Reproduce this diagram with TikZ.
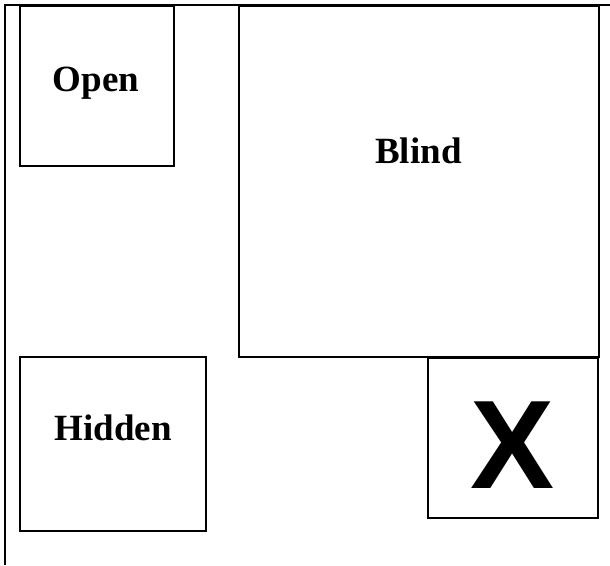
\documentclass[tikz,border=0pt]{standalone}
\usepackage{fontspec}
\setmainfont{Liberation Serif}
\newfontfamily\xfont{Liberation Sans}
\begin{document}
\begin{tikzpicture}[x=1pt,y=-1pt,
  panel/.style={draw=black,line width=1.5pt,inner sep=0pt,fill=none},
  lbl/.style={anchor=base,inner sep=0pt,font=\fontsize{37}{40}\selectfont\bfseries},
  xlbl/.style={anchor=base,inner sep=0pt,font=\fontsize{126}{130}\selectfont\xfont\bfseries}]
\useasboundingbox (0,0) rectangle (610,565);
% outer frame
\coordinate (tl) at (5,5);
\coordinate (tr) at (610,5);
\coordinate (bl) at (5,565);
\draw[line width=2.2pt] (bl) -- (tl) -- (tr);
% boxes
\node[panel,minimum width=154pt,minimum height=160pt] (open) at (97,86) {};
\node[panel,minimum width=360pt,minimum height=351pt] (blind) at (419,181.5) {};
\node[panel,minimum width=186pt,minimum height=174pt] (hidden) at (113,444) {};
\node[panel,minimum width=170pt,minimum height=160pt] (xbox) at (513,438) {};
% labels
\node[lbl] (openlbl) at (96,91) {Open};
\node[lbl] (blindlbl) at (418.5,163) {Blind};
\node[lbl] (hiddenlbl) at (113,440) {Hidden};
\node[xlbl] (xlabel) at (513,488) {X};
\end{tikzpicture}
\end{document}
